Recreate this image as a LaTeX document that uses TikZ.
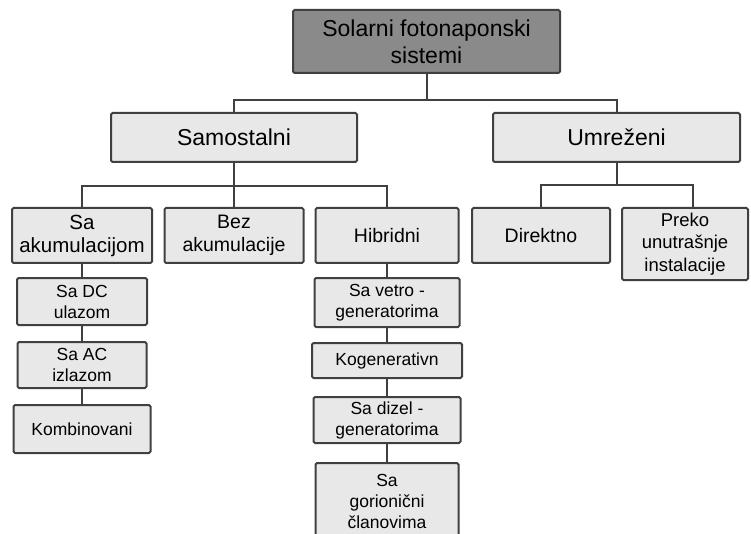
\documentclass[tikz,border=0pt]{standalone}
\usepackage{fontspec}
\setmainfont{Liberation Sans}

\definecolor{boxline}{HTML}{404040}
\definecolor{boxfill}{HTML}{E8E8E8}
\definecolor{topfill}{HTML}{8A8A8A}

\tikzset{
  box/.style={draw=boxline, fill=boxfill, line width=2pt, rounded corners=1.5pt,
    align=center, inner sep=0pt},
  sz/.style 2 args={minimum width=#1pt, minimum height=#2pt},
  big/.style={font=\fontsize{23}{27}\selectfont},
  mid/.style={font=\fontsize{19.5}{22.5}\selectfont},
  small/.style={font=\fontsize{17.5}{21}\selectfont},
  link/.style={draw=boxline, line width=2pt},
}

\begin{document}
\begin{tikzpicture}[x=1pt, y=-1pt]
\fill[white] (0,0) rectangle (751,534);
\clip (0,0) rectangle (751,534);

\node [box, big, fill=topfill, sz={267}{63}] (sistemi) at (426.5,41.5) {Solarni fotonaponski\\sistemi};

\node [box, big, sz={246}{49}] (samo) at (234,137.5) {Samostalni};
\node [box, big, sz={247}{49}] (umre) at (616.5,137.5) {Umreženi};

\node [box, mid, font=\fontsize{20.5}{23}\selectfont, sz={140}{55}] (akum) at (82,235.5) {Sa\\akumulacijom};
\node [box, mid, sz={139}{55}] (bez) at (234,235.5) {Bez\\akumulacije};
\node [box, mid, sz={143}{55}] (hibr) at (387,235.5) {Hibridni};
\node [box, mid, sz={138}{55}] (direkt) at (541,235.5) {Direktno};
\node [box, mid, font=\fontsize{18.5}{22.5}\selectfont, sz={126}{72}] (preko) at (685,244) {Preko\\unutrašnje\\instalacije};

\node [box, small, sz={130}{47}] (dc) at (82,301.5) {Sa DC\\ulazom};
\node [box, small, sz={129}{46}] (ac) at (82,365) {Sa AC\\izlazom};
\node [box, small, sz={137}{48}] (komb) at (82,429) {Kombinovani};

\node [box, small, sz={145}{49}] (vetro) at (387,302.5) {Sa vetro -\\generatorima};
\node [box, small, sz={150}{35}] (kogen) at (387,360.5) {Kogenerativn};
\node [box, small, sz={147}{46}] (dizel) at (387,420) {Sa dizel -\\generatorima};
\node [box, small, sz={143}{77}] (gori) at (387,501.5) {Sa\\gorionični\\članovima};

\draw [link] (sistemi.south) -- ++(0,26) -| (samo.north);
\draw [link] (sistemi.south) -- ++(0,26) -| (umre.north);

\draw [link] (samo.south) -- ++(0,23) -| (akum.north);
\draw [link] (samo.south) -- (bez.north);
\draw [link] (samo.south) -- ++(0,23) -| (hibr.north);

\draw [link] (umre.south) -- ++(0,22) -| (direkt.north);
\draw [link] (umre.south) -- ++(0,22) -| ([xshift=8pt]preko.north);

\draw [link] (akum) -- (dc) -- (ac) -- (komb);
\draw [link] (hibr) -- (vetro) -- (kogen) -- (dizel) -- (gori);
\end{tikzpicture}
\end{document}
